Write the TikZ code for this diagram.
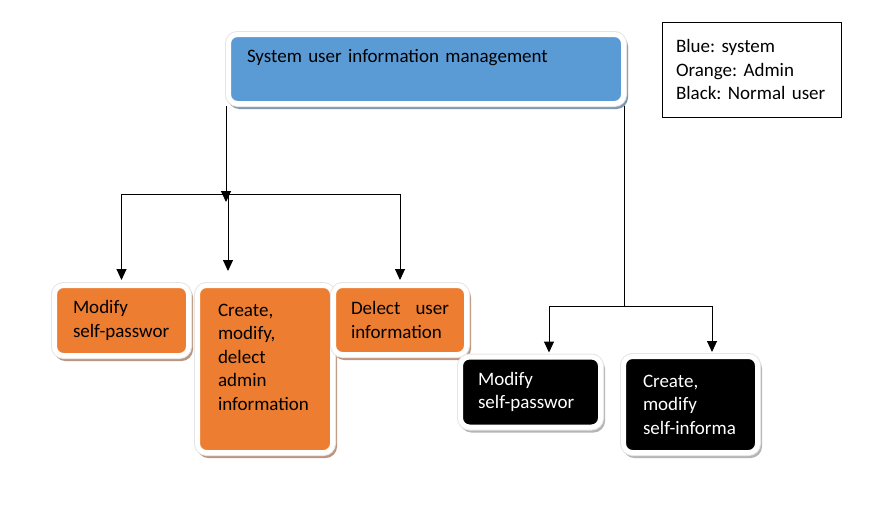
\documentclass[tikz,border=0pt]{standalone}
\usepackage{fontspec}
\setmainfont{Carlito}
\frenchspacing
\usetikzlibrary{arrows.meta}

\definecolor{sysblue}{HTML}{5B9BD5}
\definecolor{admorange}{HTML}{ED7D31}
\definecolor{sysshadow}{HTML}{7F98B2}
\definecolor{admshadow}{HTML}{BC957E}
\definecolor{usrshadow}{HTML}{B5B5B5}

\tikzset{
  box/.style={rounded corners=9pt, draw=white, line width=5pt, align=left,
    preaction={draw=#1, fill=#1, line width=5pt, transform canvas={shift={(2pt,-3pt)}}},
    preaction={draw=black!10, line width=7pt}},
  arr/.style={-{Triangle[width=10pt,length=11pt]}, line width=1pt, shorten >=3pt}
}

\begin{document}
\begin{tikzpicture}[x=1pt,y=-1pt, font=\fontsize{19}{23.5}\selectfont]
      \useasboundingbox (0,0) rectangle (890,522);

      % Sistema
      \node[box=sysshadow, fill=sysblue, minimum width=395pt, text width=358pt,
            inner xsep=18.5pt, inner ysep=12pt, text height=15.5pt, text depth=29.5pt]
            (sys) at (426,69) {System user information management};

      % Legenda
      \node[draw, line width=0.8pt, minimum width=179pt, minimum height=95pt,
            text width=151pt, inner xsep=14pt, align=left]
            (legend) at (751.5,69.5) {Blue: system\\Orange: Admin\\Black: Normal user};

      % Admin
      \node[box=admshadow, fill=admorange, minimum width=134pt, minimum height=70pt,
            text width=97pt, inner xsep=18.5pt] (modpw) at (121.5,320.5) {Modify\\self-passwor};
      \node[box=admshadow, fill=admorange, minimum width=133pt, minimum height=167pt,
            text width=94pt, inner xsep=20.5pt] (crudadm) at (265,369)
            {Create,\\modify,\\delect\\admin\\information\\\mbox{}};
      \node[box=admshadow, fill=admorange, minimum width=133pt, minimum height=69pt,
            text width=98pt, inner xsep=17.5pt] (deluser) at (400,320)
            {Delect\hfill user\\information};

      % Normal user
      \node[box=usrshadow, fill=black, text=white, minimum width=140pt, minimum height=70pt,
            text width=105pt, inner xsep=17.5pt] (selfpw) at (530.5,392) {Modify\\self-passwor};
      \node[box=usrshadow, fill=black, text=white, minimum width=134pt, minimum height=96pt,
            text width=95pt, inner xsep=19.5pt] (selfinfo) at (690.5,404.5)
            {Create,\\modify\\self-informa};

      % Ligacoes admin
      \coordinate (jl) at (226,194);
      \coordinate (jm) at (228,194);
      \draw[arr, shorten >=0pt] (sys.south -| jl) -- ([yshift=-8pt]jl);
      \draw[line width=1pt] (jl -| modpw.north) -- (jl -| deluser.north);
      \draw[arr] (jl -| modpw.north) -- (modpw.north);
      \draw[arr, shorten >=12pt] (jm) -- (jm |- crudadm.north);
      \draw[arr] (jl -| deluser.north) -- (deluser.north);

      % Ligacoes normal user
      \coordinate (jr) at (624,306);
      \coordinate (jrl) at (549,306);
      \coordinate (jrr) at (712,306);
      \draw[line width=1pt] (sys.south -| jr) -- (jr);
      \draw[line width=1pt] (jrl) -- (jrr);
      \draw[arr, shorten >=2pt] (jrl) -- (jrl |- selfpw.north);
      \draw[arr, shorten >=2pt] (jrr) -- (jrr |- selfinfo.north);
    \end{tikzpicture}
\end{document}
